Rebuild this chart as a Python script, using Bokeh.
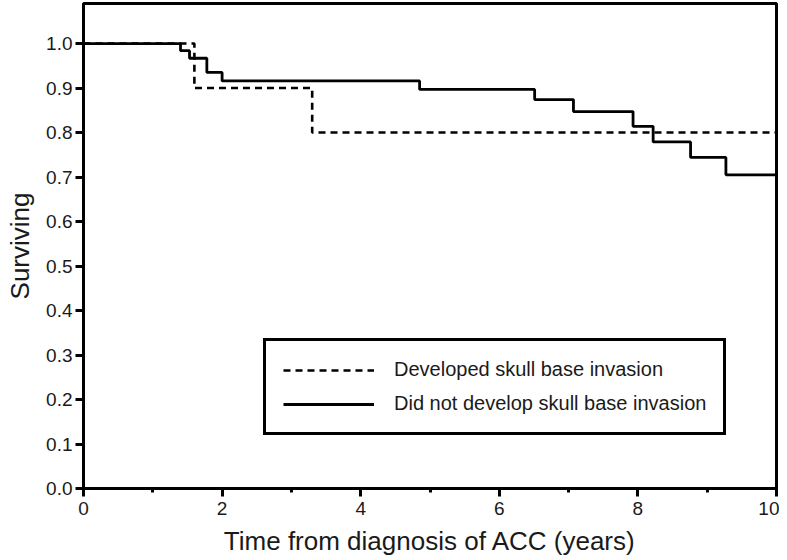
from bokeh.plotting import figure
from bokeh.models import Range1d, Legend, LegendItem, FixedTicker
from bokeh.embed import file_html
from bokeh.resources import INLINE

# Kaplan-Meier step data
invasion_t = [0.0, 1.60, 3.30, 10.0]
invasion_s = [1.0, 0.90, 0.80, 0.80]

no_invasion_t = [0.0, 1.40, 1.53, 1.78, 2.00, 4.85, 6.51, 7.07, 7.93, 8.22, 8.76, 9.27, 10.0]
no_invasion_s = [1.0, 0.984, 0.967, 0.935, 0.916, 0.897, 0.874, 0.847, 0.814, 0.779, 0.744, 0.705, 0.705]

x_ticks = [0, 2, 4, 6, 8, 10]
x_minor_ticks = [1, 3, 5, 7, 9]
y_ticks = [0.0, 0.1, 0.2, 0.3, 0.4, 0.5, 0.6, 0.7, 0.8, 0.9, 1.0]
y_tick_labels = {v: f"{v:.1f}" for v in y_ticks}

legend_labels = ["Developed skull base invasion", "Did not develop skull base invasion"]

FONT = "Liberation Sans"

p = figure(width=779, height=558, output_backend="svg", toolbar_location=None,
           x_range=Range1d(0, 10), y_range=Range1d(0, 1.09),
           min_border_left=83, min_border_right=3, min_border_top=3, min_border_bottom=70)
p.grid.visible = False
p.outline_line_color = "black"
p.outline_line_width = 3
p.outline_line_alpha = 1
p.background_fill_color = "white"
p.border_fill_color = "white"

r1 = p.step(invasion_t, invasion_s, mode="after", line_color="black", line_width=2.6, line_dash="7 5")
r2 = p.step(no_invasion_t, no_invasion_s, mode="after", line_color="black", line_width=2.8)

# axes
for ax in (p.xaxis[0], p.yaxis[0]):
    ax.axis_line_width = 3
    ax.axis_line_color = "black"
    ax.major_tick_line_width = 3
    ax.major_tick_line_color = "black"
    ax.major_tick_out = 8
    ax.major_tick_in = 0
    ax.major_label_text_font = FONT
    ax.major_label_text_font_size = "19px"
    ax.major_label_text_color = "#1a1a1a"
    ax.axis_label_text_font = FONT
    ax.axis_label_text_font_size = "26px"
    ax.axis_label_text_font_style = "normal"
    ax.axis_label_text_color = "#1a1a1a"

p.xaxis.ticker = FixedTicker(ticks=x_ticks, minor_ticks=x_minor_ticks)
p.xaxis.minor_tick_line_width = 3
p.xaxis.minor_tick_line_color = "black"
p.xaxis.minor_tick_out = 4
p.xaxis.minor_tick_in = 0
p.xaxis.major_label_standoff = 5
p.xaxis.axis_label = "Time from diagnosis of ACC (years)"
p.xaxis.axis_label_standoff = 8

p.yaxis.ticker = FixedTicker(ticks=y_ticks)
p.yaxis.major_label_overrides = y_tick_labels
p.yaxis.minor_tick_line_color = None
p.yaxis.major_label_standoff = 3
p.yaxis.axis_label = "Surviving"
p.yaxis.axis_label_standoff = 8

legend = Legend(items=[LegendItem(label=legend_labels[0], renderers=[r1]),
                       LegendItem(label=legend_labels[1], renderers=[r2])],
                location=(180, 53))
legend.border_line_color = "black"
legend.border_line_alpha = 1
legend.border_line_width = 3
legend.background_fill_alpha = 1
legend.glyph_width = 91
legend.glyph_height = 20
legend.label_height = 20
legend.label_standoff = 20
legend.padding = 17
legend.spacing = 11
legend.margin = 0
legend.label_text_font = FONT
legend.label_text_font_size = "20px"
legend.label_text_color = "#1a1a1a"
p.add_layout(legend)

open("out.html", "w").write(file_html(p, INLINE))
